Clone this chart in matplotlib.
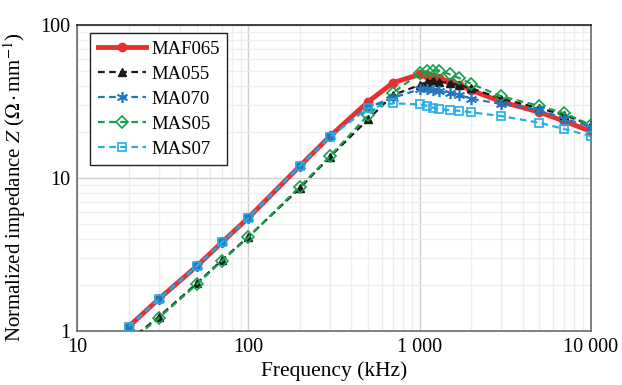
import numpy as np
import matplotlib
matplotlib.use("Agg")
import matplotlib.pyplot as plt
from matplotlib.ticker import FixedLocator, NullFormatter, LogLocator

plt.rcParams['font.family'] = ['Liberation Serif', 'DejaVu Serif']
plt.rcParams['mathtext.fontset'] = 'stix'

# frequency points (kHz)
freq = [20, 30, 50, 70, 100, 200, 300, 500, 700, 1000, 1100, 1200, 1300,
        1500, 1700, 2000, 3000, 5000, 7000, 10000]

# normalized impedance values (Ohm/mm)
maf065 = [1.07, 1.62, 2.66, 3.8, 5.5, 12.0, 18.8, 31.5, 42.0, 47.6, 47.2, 46.0,
          45.0, 42.6, 40.5, 37.5, 31.5, 27.0, 23.5, 20.2]
ma055 = [0.86, 1.24, 2.05, 2.91, 4.13, 8.6, 13.8, 24.2, 34.9, 40.5, 42.6, 43.5,
         42.6, 41.6, 40.5, 38.6, 33.0, 28.6, 25.8, 22.2]
ma070 = [1.07, 1.62, 2.66, 3.8, 5.5, 12.0, 18.8, 29.0, 33.5, 38.0, 38.0, 37.5,
         37.0, 36.2, 35.0, 33.0, 30.5, 27.8, 24.5, 21.6]
mas05 = [0.84, 1.22, 2.02, 2.88, 4.1, 8.8, 13.9, 25.8, 36.2, 48.3, 50.0, 50.3,
         50.3, 47.6, 45.0, 41.3, 34.2, 29.6, 26.5, 22.2]
mas07 = [1.07, 1.62, 2.66, 3.8, 5.5, 12.0, 18.6, 28.6, 30.8, 30.3, 29.7, 28.8,
         28.2, 27.8, 27.5, 26.9, 25.4, 23.0, 20.9, 18.8]

xticks = [10, 100, 1000, 10000]
xticklabels = ['10', '100', '1 000', '10 000']
yticks = [1, 10, 100]
yticklabels = ['1', '10', '100']

fig = plt.figure(figsize=(6.22, 3.85), dpi=100)
ax = fig.add_axes([0.124, 0.140, 0.826, 0.795])

ax.plot(freq, maf065, color='#e8302e', lw=3.5, marker='o', ms=6, label='MAF065', zorder=3)
ax.plot(freq, ma055, color='#1a1a1a', lw=1.6, ls=(0, (3, 2)), marker='^', ms=6,
        label='MA055', zorder=4)
ax.plot(freq, ma070, color='#2277c0', lw=1.6, ls=(0, (3, 2)), marker=(6, 2, 0), ms=8,
        mew=1.2, label='MA070', zorder=5)
ax.plot(freq, mas05, color='#17a04c', lw=1.6, ls=(0, (3, 2)), marker='D', ms=6,
        mfc='none', mew=1.2, label='MAS05', zorder=4)
ax.plot(freq, mas07, color='#22aee6', lw=1.6, ls=(0, (3, 2)), marker='s', ms=6,
        mfc='none', mew=1.2, label='MAS07', zorder=5)

ax.set_xscale('log')
ax.set_yscale('log')
ax.set_xlim(10, 10000)
ax.set_ylim(1, 100)

ax.xaxis.set_major_locator(FixedLocator(xticks))
ax.set_xticklabels(xticklabels)
ax.yaxis.set_major_locator(FixedLocator(yticks))
ax.set_yticklabels(yticklabels)
ax.xaxis.set_minor_locator(LogLocator(base=10, subs=np.arange(2, 10)))
ax.yaxis.set_minor_locator(LogLocator(base=10, subs=np.arange(2, 10)))
ax.xaxis.set_minor_formatter(NullFormatter())
ax.yaxis.set_minor_formatter(NullFormatter())

ax.grid(which='major', color='#d0d0d0', lw=1.0)
ax.grid(which='minor', color='#eeeeee', lw=1.0)
ax.set_axisbelow(True)
ax.tick_params(which='both', length=0, labelsize=14.5, pad=5)

for side in ['left', 'bottom', 'right']:
    ax.spines[side].set_color('#6a6a6a')
    ax.spines[side].set_linewidth(1.2)
ax.spines['top'].set_color('#222222')
ax.spines['top'].set_linewidth(1.2)

ax.set_xlabel('Frequency (kHz)', fontsize=15.5, labelpad=3)
ax.set_ylabel(r'Normalized impedance $Z$ ($\Omega\cdot$mm$^{-1}$)', fontsize=15, labelpad=4)
ax.yaxis.set_label_coords(-0.095, 0.47)

leg = ax.legend(loc='upper left', bbox_to_anchor=(0.018, 0.985), fontsize=13.5,
                frameon=True, fancybox=False, edgecolor='#222222', framealpha=1,
                handlelength=2.6, handletextpad=0.25, borderpad=0.4, labelspacing=0.42,
                borderaxespad=0.2)
leg.get_frame().set_linewidth(1.0)

fig.savefig('out.png', dpi=100)
